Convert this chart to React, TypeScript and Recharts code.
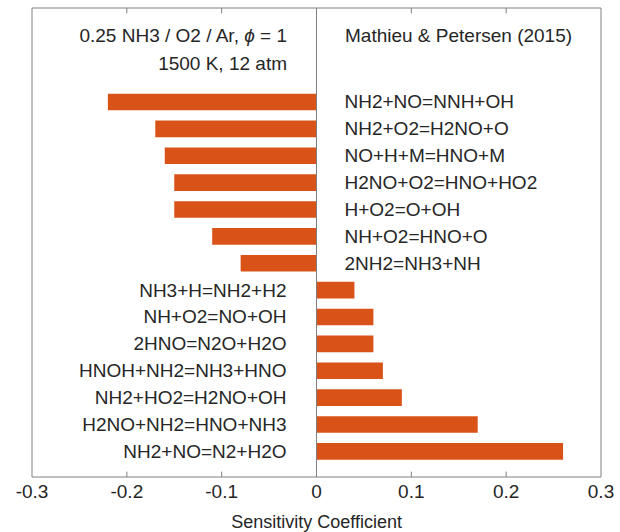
import React from 'react';
import { BarChart, Bar, XAxis, YAxis, ReferenceLine, ReferenceArea, LabelList } from 'recharts';

const reactions = [
  'NH2+NO=NNH+OH',
  'NH2+O2=H2NO+O',
  'NO+H+M=HNO+M',
  'H2NO+O2=HNO+HO2',
  'H+O2=O+OH',
  'NH+O2=HNO+O',
  '2NH2=NH3+NH',
  'NH3+H=NH2+H2',
  'NH+O2=NO+OH',
  '2HNO=N2O+H2O',
  'HNOH+NH2=NH3+HNO',
  'NH2+HO2=H2NO+OH',
  'H2NO+NH2=HNO+NH3',
  'NH2+NO=N2+H2O',
];
const sensitivity = [-0.22, -0.17, -0.16, -0.15, -0.15, -0.11, -0.08, 0.04, 0.06, 0.06, 0.07, 0.09, 0.17, 0.26];
const xTicks = [-0.3, -0.2, -0.1, 0, 0.1, 0.2, 0.3];
const xLabel = 'Sensitivity Coefficient';
const conditionLine1 = '0.25 NH3 / O2 / Ar, ';
const conditionLine2 = '1500 K, 12 atm';
const source = 'Mathieu & Petersen (2015)';

const data = reactions.map((name, i) => ({ name, pos: i, value: sensitivity[i] }));

const FONT = '"Liberation Sans", Arial, Helvetica, sans-serif';
const TEXT = '#262626';
const AXIS = '#808080';
const BAR = '#D95319';
const Y_DOMAIN: [number, number] = [-3.5, 13.95];

const ReactionLabel = (props: any) => {
  const { x, y, width, height, value, index } = props;
  const v = sensitivity[index];
  const x0 = Number(x);
  const w = Number(width);
  const zero = v < 0 ? Math.max(x0, x0 + w) : Math.min(x0, x0 + w);
  const cy = Number(y) + Number(height) / 2;
  return (
    <text
      x={v < 0 ? zero + 28 : zero - 30}
      y={cy}
      textAnchor={v < 0 ? 'start' : 'end'}
      dominantBaseline="central"
      fontFamily={FONT}
      fontSize={19}
      fill={TEXT}
    >
      {value}
    </text>
  );
};

const XTick = (props: any) => {
  const { x, y, payload } = props;
  return (
    <text x={x} y={Number(y) + 14.5} textAnchor="middle" dominantBaseline="central" fontFamily={FONT} fontSize={19} fill={TEXT}>
      {payload.value}
    </text>
  );
};

export default function App() {
  return (
    <div style={{ position: 'absolute', left: 0, top: 0, background: '#fff' }}>
      <BarChart
        width={620}
        height={532}
        data={data}
        layout="vertical"
        margin={{ top: 8, right: 19, bottom: 0, left: 32 }}
      >
        <XAxis
          type="number"
          domain={[-0.3, 0.3]}
          ticks={xTicks}
          tickLine={false}
          axisLine={false}
          tickSize={0}
          tickMargin={0}
          height={55}
          tick={<XTick />}
          interval={0}
        />
        <YAxis type="number" dataKey="pos" domain={Y_DOMAIN} hide allowDataOverflow />
        <ReferenceArea x1={-0.3} x2={0.3} y1={Y_DOMAIN[0]} y2={Y_DOMAIN[1]} fill="none" stroke={AXIS} strokeWidth={1} fillOpacity={0} />
        {xTicks.slice(1, -1).map((t) => (
          <ReferenceLine key={'b' + t} segment={[{ x: t, y: Y_DOMAIN[1] }, { x: t, y: Y_DOMAIN[1] - 0.2 }]} stroke={AXIS} />
        ))}
        {xTicks.slice(1, -1).map((t) => (
          <ReferenceLine key={'t' + t} segment={[{ x: t, y: Y_DOMAIN[0] }, { x: t, y: Y_DOMAIN[0] + 0.2 }]} stroke={AXIS} />
        ))}
        <Bar dataKey="value" fill={BAR} barSize={16.7} isAnimationActive={false}>
          <LabelList dataKey="name" content={<ReactionLabel />} />
        </Bar>
        <ReferenceLine x={0} stroke={AXIS} strokeWidth={1} />
        <text x={287} y={35} textAnchor="end" dominantBaseline="central" fontFamily={FONT} fontSize={19} fill={TEXT}>
          {conditionLine1}
          <tspan fontStyle="italic">ϕ</tspan>
          {' = 1'}
        </text>
        <text x={287} y={63} textAnchor="end" dominantBaseline="central" fontFamily={FONT} fontSize={19} fill={TEXT}>
          {conditionLine2}
        </text>
        <text x={345} y={35} textAnchor="start" dominantBaseline="central" fontFamily={FONT} fontSize={19} fill={TEXT}>
          {source}
        </text>
        <text x={316.7} y={522} textAnchor="middle" dominantBaseline="central" fontFamily={FONT} fontSize={18} fill={TEXT}>
          {xLabel}
        </text>
      </BarChart>
    </div>
  );
}
